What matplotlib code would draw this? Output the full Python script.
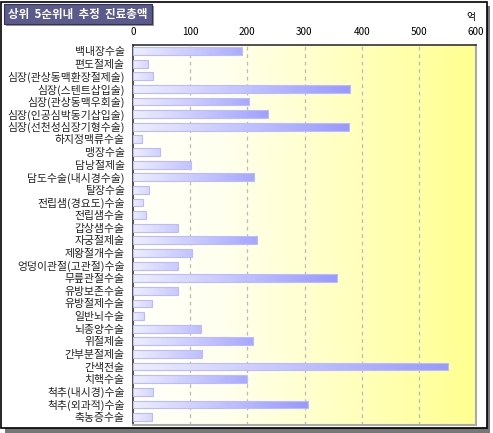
import numpy as np
import matplotlib
matplotlib.use('Agg')
import matplotlib.pyplot as plt
from matplotlib.colors import LinearSegmentedColormap
from matplotlib.patches import Rectangle

plt.rcParams['font.family'] = ['Noto Sans CJK KR', 'DejaVu Sans']

# data (억원)
surgeries = ['백내장수술', '편도절제술', '심장(관상동맥환장절제술)', '심장(스텐트삽입술)',
             '심장(관상동맥우회술)', '심장(인공심박동기삽입술)', '심장(선천성심장기형수술)',
             '하지정맥류수술', '맹장수술', '담낭절제술', '담도수술(내시경수술)', '탈장수술',
             '전립샘(경요도)수술', '전립샘수술', '갑상샘수술', '자궁절제술', '제왕절개수술',
             '엉덩이관절(고관절)수술', '무릎관절수술', '유방보존수술', '유방절제수술',
             '일반뇌수술', '뇌종양수술', '위절제술', '간부분절제술', '간색전술', '치핵수술',
             '척추(내시경)수술', '척추(외과적)수술', '축농증수술']
amounts = [190, 26, 35, 380, 203, 237, 378, 16, 47, 101, 212, 28, 18, 22, 79, 217, 104,
           79, 357, 79, 33, 19, 119, 210, 121, 551, 199, 35, 306, 34]
xticks = [0, 100, 200, 300, 400, 500, 600]

W, H = 493, 433
fig = plt.figure(figsize=(W / 100, H / 100), dpi=100)
fig.patch.set_facecolor('white')

# outer frame with shadow
fig.patches.append(Rectangle((5 / W, 0), 485 / W, 427 / H, transform=fig.transFigure,
                             facecolor='#777777', edgecolor='none', zorder=-3))
fig.patches.append(Rectangle((1 / W, 5 / H), 486 / W, 426 / H, transform=fig.transFigure,
                             facecolor='white', edgecolor='black', linewidth=1.2, zorder=-2))

ax = fig.add_axes([133 / W, 1 - 425 / H, 343 / W, 380 / H])
y = np.arange(len(surgeries))

# background gradient white -> yellow
bg = LinearSegmentedColormap.from_list('bg', [(0, '#fffff8'), (0.25, '#fffff0'), (1, '#ffff90')])
grad = np.linspace(0, 1, 256).reshape(1, -1)
ax.imshow(grad, cmap=bg, extent=[0, 600, 29.63, -0.48], aspect='auto', zorder=0)

for v in xticks[1:-1]:
    ax.axvline(v, color='#bbbbbb', linestyle=(0, (3, 3)), linewidth=0.9, zorder=1)

bars = ax.barh(y, amounts, height=0.62, color='none', edgecolor='#bbbbff', linewidth=0.8, zorder=3)
bar_cmap = LinearSegmentedColormap.from_list('bar', ['#eeeeff', '#9999ff'])
for b in bars:
    x0, y0 = b.get_x(), b.get_y()
    w, h = b.get_width(), b.get_height()
    g = np.linspace(0, min(1, w / 330 + 0.2), 128).reshape(1, -1)
    im = ax.imshow(g, cmap=bar_cmap, vmin=0, vmax=1, extent=[x0, x0 + w, y0 + h, y0],
                   aspect='auto', zorder=2)
    im.set_clip_path(b)

ax.set_xlim(0, 600)
ax.set_ylim(29.63, -0.48)
ax.set_xticks(xticks)
ax.xaxis.tick_top()
ax.tick_params(axis='x', length=0, labelsize=7.2, pad=6)
ax.set_yticks(y)
ax.set_yticklabels(surgeries, fontsize=7.8, color='#222222')
ax.tick_params(axis='y', length=0, pad=6)
for s in ['top', 'left']:
    ax.spines[s].set_color('#333333')
    ax.spines[s].set_linewidth(1.2)
for s in ['right', 'bottom']:
    ax.spines[s].set_color('#aaaaaa')
    ax.spines[s].set_linewidth(1.5)

fig.text(471 / W, 1 - 17 / H, '억', fontsize=7, ha='center', va='center')

# title box
fig.patches.append(Rectangle((6 / W, 1 - 26 / H), 148 / W, 20 / H, transform=fig.transFigure,
                             facecolor='#999999', edgecolor='none', zorder=2))
fig.patches.append(Rectangle((4 / W, 1 - 24 / H), 148 / W, 20 / H, transform=fig.transFigure,
                             facecolor='#5a5a8c', edgecolor='#333355', linewidth=0.8, zorder=3))
fig.text(8 / W, 1 - 14.5 / H, '상위  5순위내  추정  진료총액', fontsize=8.3, color='white',
         fontweight='bold', ha='left', va='center', zorder=4)

fig.savefig('out.png', dpi=100)
